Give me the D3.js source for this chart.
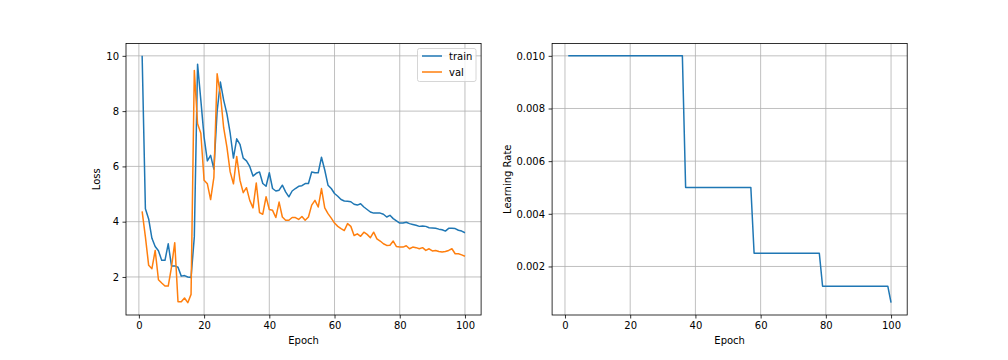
<!DOCTYPE html>
<html><head><meta charset="utf-8">
<script src="https://cdn.jsdelivr.net/npm/d3@7"></script>
<style>body{margin:0;background:#fff}svg{display:block}text{font-family:"DejaVu Sans",sans-serif;}</style>
</head><body><svg id="c" width="1008" height="360"></svg>
<script>
const epochs = d3.range(1, 101);
const trainLoss = [10.0,4.47,4.1,3.4,3.1,2.95,2.6,2.6,3.2,2.4,2.4,2.35,2.03,2.05,2.0,1.98,3.45,9.7,8.4,7.06,
6.2,6.4,5.9,8.0,9.05,8.4,7.9,7.2,6.3,7.0,6.8,6.3,6.2,6.0,5.65,5.75,5.8,5.38,5.28,5.77,
5.2,5.11,5.14,5.32,5.08,4.9,5.11,5.2,5.28,5.3,5.38,5.38,5.8,5.77,5.77,6.33,5.87,5.32,5.2,5.02,
4.92,4.8,4.75,4.74,4.72,4.63,4.6,4.65,4.53,4.44,4.35,4.31,4.31,4.31,4.27,4.17,4.23,4.11,4.03,3.95,
3.95,3.98,3.93,3.9,3.87,3.83,3.84,3.83,3.78,3.77,3.76,3.73,3.71,3.66,3.76,3.76,3.75,3.69,3.66,3.6];
const valLoss = [4.37,3.45,2.42,2.3,2.96,1.9,1.78,1.67,1.67,2.36,3.24,1.1,1.1,1.24,1.07,1.37,9.47,7.54,7.2,5.5,
5.37,4.8,5.6,9.35,8.6,7.4,6.7,5.8,5.37,6.36,5.5,5.05,5.23,4.77,4.5,5.4,4.33,4.27,4.9,4.44,
4.41,4.15,4.71,4.17,4.05,4.05,4.15,4.15,4.08,4.19,4.05,4.17,4.6,4.77,4.53,5.2,4.5,4.29,4.13,3.95,
3.83,3.75,3.68,3.93,3.83,3.5,3.56,3.47,3.62,3.54,3.42,3.62,3.38,3.3,3.2,3.14,3.15,3.3,3.1,3.08,
3.08,3.13,3.02,3.08,3.06,3.02,3.06,2.96,3.02,2.94,2.96,2.92,2.9,2.92,2.96,3.02,2.84,2.84,2.8,2.75];
const lrValues = epochs.map(e => e <= 36 ? 0.01 : e <= 57 ? 0.005 : e <= 78 ? 0.0025 : e <= 99 ? 0.00125 : 0.000625);
const xTicks = [0, 20, 40, 60, 80, 100];
const lossTicks = [2, 4, 6, 8, 10];
const lrTicks = [0.002, 0.004, 0.006, 0.008, 0.010];
const seriesNames = ["train", "val"];
const colors = ["#1f77b4", "#ff7f0e"];

const svg = d3.select("#c");
const yTop = 43.5, yBot = 315;

function pad(ext){const r = ext[1]-ext[0]; return [ext[0]-r*0.05, ext[1]+r*0.05];}

function panel(x0, x1, ydom, yTicks, yFmt, ylabel, series, legend){
  const g = svg.append("g");
  const x = d3.scaleLinear().domain(pad([1,100])).range([x0, x1]);
  const y = d3.scaleLinear().domain(ydom).range([yBot, yTop]);
  g.append("g").selectAll("line").data(xTicks).join("line")
    .attr("x1", d=>x(d)).attr("x2", d=>x(d)).attr("y1", yTop).attr("y2", yBot)
    .attr("stroke", "#b0b0b0").attr("stroke-width", 0.8);
  g.append("g").selectAll("line").data(yTicks).join("line")
    .attr("y1", d=>y(d)).attr("y2", d=>y(d)).attr("x1", x0).attr("x2", x1)
    .attr("stroke", "#b0b0b0").attr("stroke-width", 0.8);
  const clip = "clip" + Math.round(x0);
  svg.append("clipPath").attr("id", clip).append("rect").attr("x", x0).attr("y", yTop).attr("width", x1-x0).attr("height", yBot-yTop);
  series.forEach((s, i) => {
    g.append("path").datum(s.values).attr("clip-path", `url(#${clip})`)
      .attr("fill", "none").attr("stroke", s.color).attr("stroke-width", 1.5).attr("stroke-linejoin","round")
      .attr("d", d3.line().x((d, j) => x(epochs[j])).y(d => y(d)));
  });
  const ax = g.append("g").attr("transform", `translate(0,${yBot})`)
    .call(d3.axisBottom(x).tickValues(xTicks).tickSize(3.5).tickPadding(3.5).tickFormat(d3.format("d")));
  const ay = g.append("g").attr("transform", `translate(${x0},0)`)
    .call(d3.axisLeft(y).tickValues(yTicks).tickSize(3.5).tickPadding(3.5).tickFormat(yFmt));
  [ax, ay].forEach(a => {
    a.select(".domain").remove();
    a.selectAll("line").attr("stroke", "#000").attr("stroke-width", 0.8);
    a.selectAll("text").attr("font-size", 10).attr("fill", "#000").attr("font-family", "DejaVu Sans");
  });
  g.append("rect").attr("x", x0).attr("y", yTop).attr("width", x1-x0).attr("height", yBot-yTop)
    .attr("fill", "none").attr("stroke", "#000").attr("stroke-width", 0.8);
  g.append("text").attr("x", (x0+x1)/2).attr("y", 344).attr("text-anchor", "middle")
    .attr("font-size", 10).text("Epoch");
  const lx = ylabel === "Loss" ? 100 : 511;
  g.append("text").attr("transform", `translate(${lx},${(yTop+yBot)/2}) rotate(-90)`).attr("text-anchor", "middle")
    .attr("font-size", 10).text(ylabel);
  if (legend) {
    const lg = g.append("g");
    lg.append("rect").attr("x", 417.5).attr("y", 48.5).attr("width", 58.5).attr("height", 33).attr("rx", 2)
      .attr("fill", "#fff").attr("fill-opacity", 0.8).attr("stroke", "#cccccc").attr("stroke-width", 0.8);
    series.forEach((s, i) => {
      const yy = 56 + i * 16;
      lg.append("line").attr("x1", 422).attr("x2", 442).attr("y1", yy).attr("y2", yy)
        .attr("stroke", s.color).attr("stroke-width", 1.5);
      lg.append("text").attr("x", 449).attr("y", yy + 3.5).attr("font-size", 10).text(s.name);
    });
  }
}

panel(126, 481.1, pad([1.07, 10.0]), lossTicks, d3.format("d"), "Loss",
  [{name: seriesNames[0], values: trainLoss, color: colors[0]}, {name: seriesNames[1], values: valLoss, color: colors[1]}], true);
panel(552.1, 907.2, pad([0.000625, 0.01]), lrTicks, d3.format(".3f"), "Learning Rate",
  [{name: "lr", values: lrValues, color: colors[0]}], false);
</script></body></html>
